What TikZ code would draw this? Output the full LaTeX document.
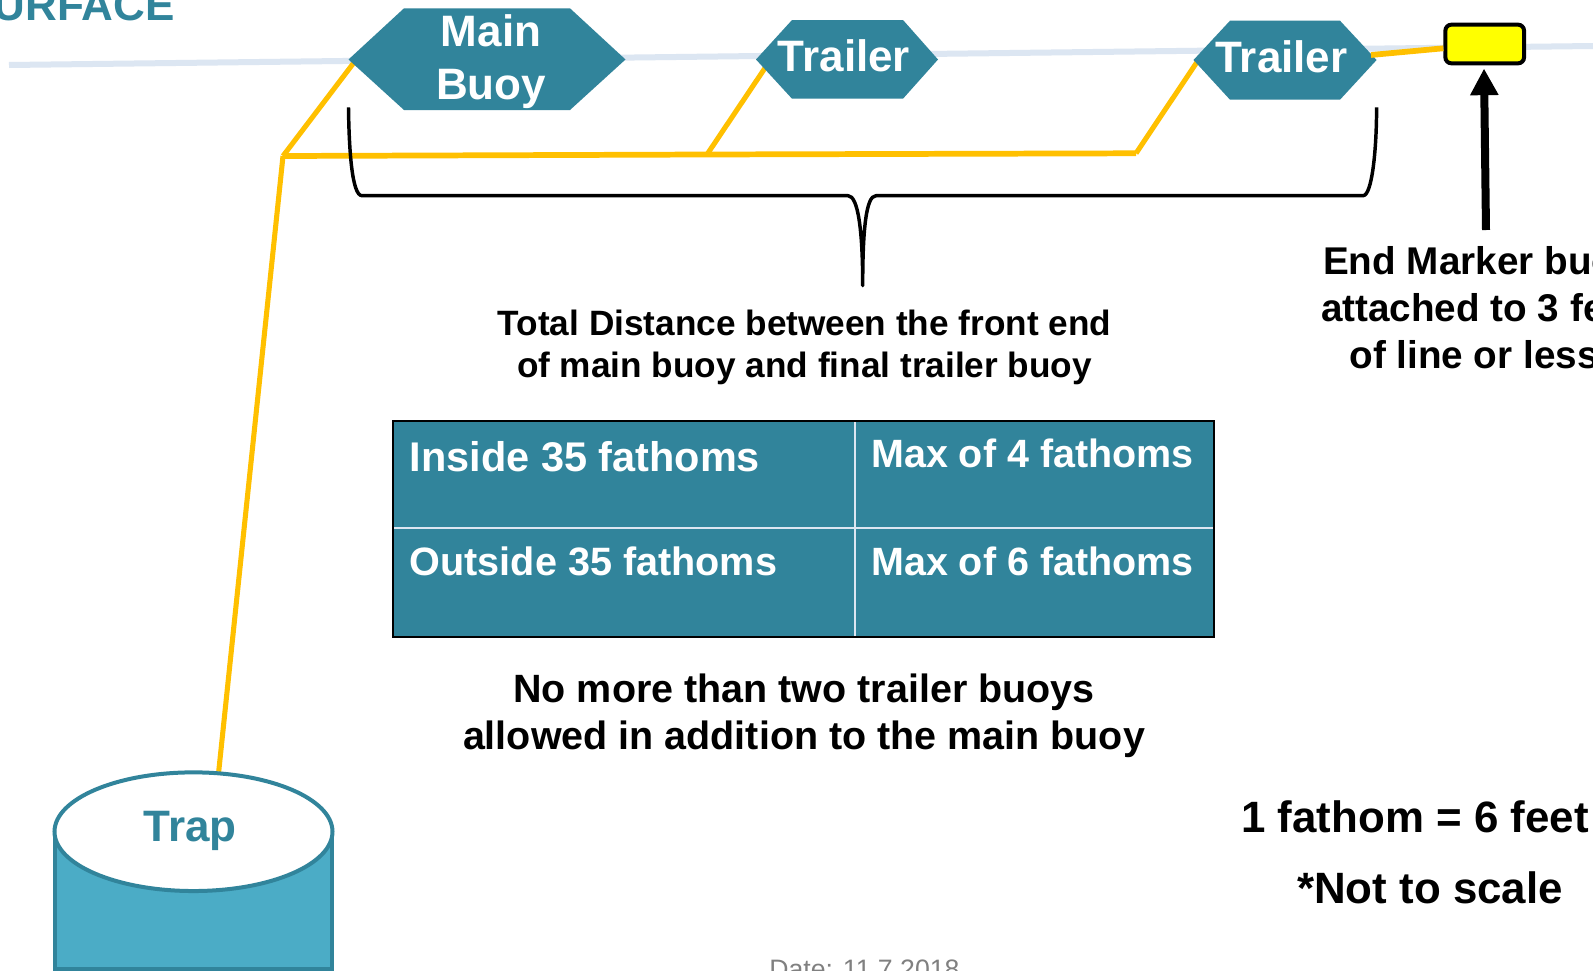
\documentclass[tikz,border=0pt]{standalone}
\usepackage{fontspec}
\setmainfont{Liberation Sans}
\usetikzlibrary{arrows.meta,shapes.geometric}
\definecolor{tealc}{HTML}{31849B}
\definecolor{trapfill}{HTML}{4BACC6}
\definecolor{rope}{HTML}{FFC000}
\definecolor{surf}{HTML}{DCE6F2}
\definecolor{markery}{HTML}{FFFF00}
\newcommand{\fs}[2]{\fontsize{#1pt}{#2pt}\selectfont\bfseries}
\tikzset{
  x=0.75pt,y=-0.75pt,
  buoy/.style={fill=tealc,draw=none},
  buoytext/.style={text=white,align=center,inner sep=0pt},
  blacktext/.style={text=black,align=center,inner sep=0pt},
  ropeline/.style={draw=rope,line width=3.8pt},
  ropemain/.style={draw=rope,line width=4.3pt},
  bracel/.style={draw=black,line width=2.6pt,line join=round},
  celltext/.style={text=white,anchor=base west,inner sep=0pt},
  griddiv/.style={draw=surf,line width=1.5pt},
}
\begin{document}
\begin{tikzpicture}
\useasboundingbox (0,0) rectangle (1593,971);
\clip (0,0) rectangle (1593,971);
\fill[white] (0,0) rectangle (1593,971);
% surface
\coordinate (sl) at (9,65); \coordinate (sr) at (1593,46);
\draw[surf,line width=4.5pt] (sl) -- (sr);
\node[text=tealc,anchor=base west,inner sep=0pt,font=\fs{33}{38}] (surface) at (-36,20.7) {SURFACE};
% rope
\coordinate (j0) at (283,156);
\coordinate (j1) at (707,154.5);
\coordinate (j2) at (1136,153.3);
\coordinate (r0) at (353.6,63);
\coordinate (r1) at (765,68);
\coordinate (r2) at (1197,62);
\coordinate (r3) at (1371,55);
\draw[ropeline] (r0) -- (j0);
\draw[ropemain] (j0) -- (j1) -- (j2);
\draw[ropeline] (j2) -- (r2);
\draw[ropeline] (j1) -- (r1);
% buoys
\fill[buoy] (348.5,59.5) -- (404,8.3) -- (570,8.3) -- (625.5,59.5) -- (570,110) -- (404,110) -- cycle;
\fill[buoy] (756,59.5) -- (792,20) -- (903,20) -- (938,59.5) -- (903,98.7) -- (792,98.7) -- cycle;
\fill[buoy] (1193.5,60) -- (1230,20.7) -- (1340,20.7) -- (1376.6,60) -- (1340,99.7) -- (1230,99.7) -- cycle;
\node[buoytext,font=\fs{33}{39.75}] (mainb) at (491,61.5) {Main\\Buoy};
\node[buoytext,font=\fs{33}{40}] (tr1) at (844,56) {Trailer};
\node[buoytext,font=\fs{33}{40}] (tr2) at (1281.5,56.5) {Trailer};
% marker
\node[draw=black,fill=markery,line width=3pt,rounded corners=4.5pt,minimum width=59pt,minimum height=29pt,inner sep=0pt] (marker) at (1484.7,44) {};
\draw[ropemain] (r3) -- (marker.west |- 0,48.3);
% vertical down to trap
\coordinate (trapt) at (218.7,771.7);
\draw[ropeline] (j0) -- (trapt);
% brace
\coordinate (ba) at (348.5,107.3);
\coordinate (bb) at (362,195.7);
\coordinate (bc) at (848,195.7);
\coordinate (bd) at (862.7,285.7);
\coordinate (be) at (876,195.7);
\coordinate (bf) at (1363,195.7);
\coordinate (bg) at (1376.6,107.3);
\draw[bracel] (ba) .. controls (349,150) and (352,195.7) .. (bb) -- (bc)
  .. controls (858,195.7) and (862.7,230) .. (bd)
  .. controls (862.7,230) and (866,195.7) .. (be) -- (bf)
  .. controls (1372,195.7) and (1376.6,150) .. (bg);
% arrow
\coordinate (at) at (1486,230);
\coordinate (ah) at (1484,68.5);
\draw[line width=6pt,-{Triangle[length=20pt,width=20pt]}] (at) -- (ah);
% texts
\node[blacktext,font=\fs{26.4}{31.6}] (total) at (804.5,347) {Total Distance between the front end\\of main buoy and final trailer buoy};
\node[blacktext,font=\fs{29}{35.2}] (endm) at (1480,308) {End Marker buoy\\attached to 3 feet\\of line or less\hspace*{9pt}};
% table
\coordinate (tl) at (393,421); \coordinate (br) at (1214,636.7);
\fill[tealc] (tl) rectangle (br);
\draw[griddiv] (855,421) -- (855,636.7);
\draw[griddiv] (393,528) -- (1214,528);
\draw[black,line width=1.8pt] (tl) rectangle (br);
\node[celltext,font=\fs{31.1}{36}] (c1) at (409.5,471) {Inside 35 fathoms};
\node[celltext,font=\fs{29.6}{36}] (c2) at (871,467) {Max of 4 fathoms};
\node[celltext,font=\fs{29.7}{36}] (c3) at (409.5,575) {Outside 35 fathoms};
\node[celltext,font=\fs{29.6}{36}] (c4) at (871,575) {Max of 6 fathoms};
\node[blacktext,font=\fs{29.6}{35.2}] (note) at (804,716) {No more than two trailer buoys\\allowed in addition to the main buoy};
\node[blacktext,font=\fs{32.9}{40}] (fath) at (1415,816.5) {1 fathom = 6 feet};
\node[blacktext,font=\fs{32.9}{40}] (scale) at (1430,887.5) {*Not to scale};
% trap
\draw[fill=trapfill,draw=tealc,line width=3pt] (55,832) -- (55,969) -- (332,969) -- (332,832);
\node[draw=tealc,fill=white,line width=3pt,ellipse,minimum width=208.5pt,minimum height=89pt,inner sep=0pt] (trap) at (193.5,831.7) {};
\node[text=tealc,inner sep=0pt,font=\fs{33}{40}] (traplabel) at (190,831) {Trap};
\node[text=gray,anchor=base west,inner sep=0pt,font=\fontsize{20}{24}\selectfont] (date) at (769,978.5) {Date: 11.7.2018};
\end{tikzpicture}
\end{document}
